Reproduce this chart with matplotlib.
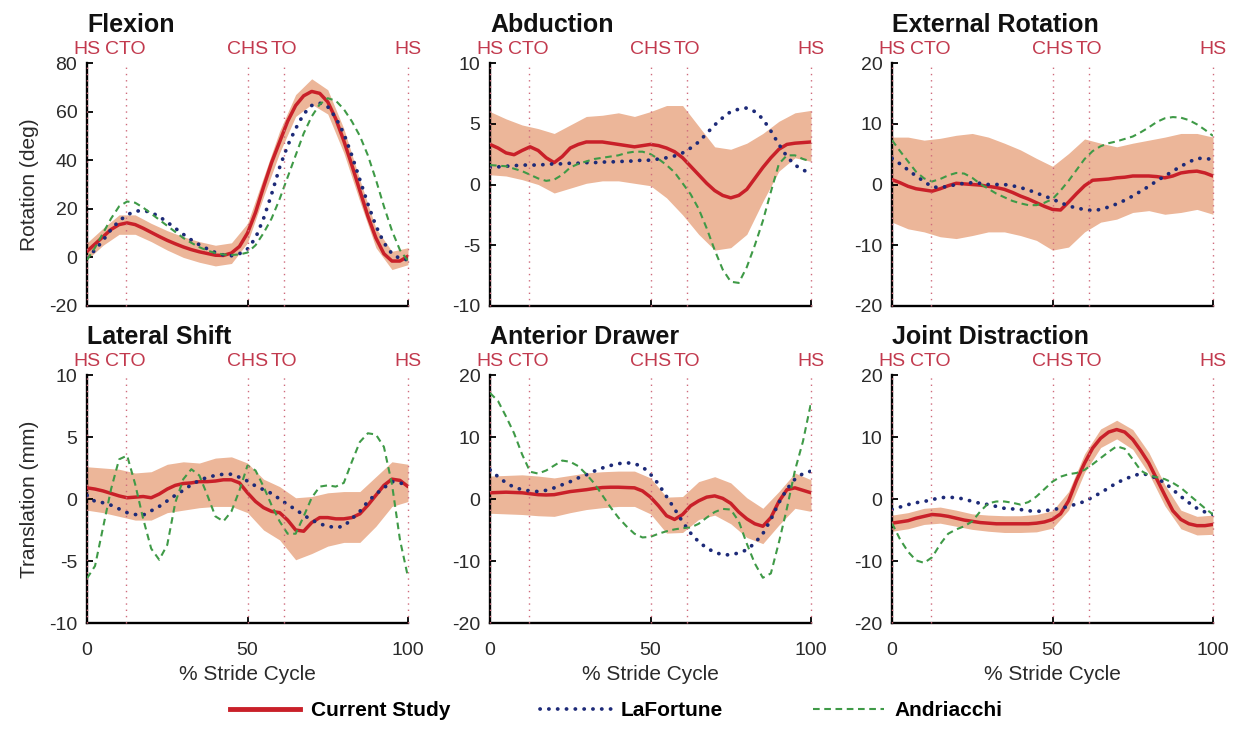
import matplotlib
matplotlib.use("Agg")
import matplotlib.pyplot as plt
from matplotlib.lines import Line2D

plt.rcParams['font.family'] = ['Liberation Sans', 'DejaVu Sans']
plt.rcParams['axes.unicode_minus'] = False

# ---------------------------------------------------------------- data
pct = [0, 2.5, 5, 7.5, 10, 12.5, 15, 17.5, 20, 22.5, 25, 27.5, 30, 32.5, 35,
       37.5, 40, 42.5, 45, 47.5, 50, 52.5, 55, 57.5, 60, 62.5, 65, 67.5, 70,
       72.5, 75, 77.5, 80, 82.5, 85, 87.5, 90, 92.5, 95, 97.5, 100]
band_pct = [0, 5, 10, 15, 20, 25, 30, 35, 40, 45, 50, 55, 60, 65, 70, 75,
            80, 85, 90, 95, 100]

events = [0, 12, 50, 61.5, 100]
event_labels = ["HS", "CTO", "CHS", "TO", "HS"]

titles = ["Flexion", "Abduction", "External Rotation",
          "Lateral Shift", "Anterior Drawer", "Joint Distraction"]
ylabels = ["Rotation (deg)", "Translation (mm)"]
series_names = ["Current Study", "LaFortune", "Andriacchi"]

# Flexion (deg)
flex_mean = [2.5, 5.5, 8.5, 11.5, 13.5, 14.2, 13.5, 12.0, 10.3, 8.6, 7.0, 5.6,
             4.3, 3.2, 2.3, 1.6, 0.9, 0.8, 1.8, 4.5, 10.0, 18.5, 29.0, 39.0,
             47.5, 56.0, 62.5, 66.5, 68.3, 67.5, 64.0, 57.0, 48.0, 38.0, 27.5,
             17.0, 8.0, 1.5, -1.5, -1.5, 0.5]
flex_hi = [6, 12, 17.5, 17.5, 14, 11, 8.5, 6.5, 5, 6, 14, 33, 52, 67, 73.5,
           69, 53, 32, 12, 2.5, 4]
flex_lo = [-1, 5, 9.5, 9.5, 6.5, 3, 0, -2, -3.5, -2.5, 6, 25, 43, 58, 63, 59,
           43, 23, 4, -5, -3]
flex_lafortune = [0.0, 3.0, 7.0, 11.5, 15.0, 17.5, 19.0, 19.3, 18.5, 16.8,
                  14.5, 12.0, 9.5, 7.2, 5.2, 3.5, 2.0, 1.0, 0.7, 1.5, 3.5, 8.0,
                  16.0, 26.0, 37.0, 46.0, 53.0, 59.0, 62.5, 63.5, 62.0, 57.5,
                  51.0, 42.0, 32.0, 22.0, 13.0, 6.0, 1.5, -0.5, -1.0]
flex_andriacchi = [-1.0, 4.0, 10.0, 16.0, 21.0, 23.0, 22.5, 20.5, 18.0, 15.5,
                   13.0, 10.5, 8.0, 6.0, 4.2, 2.8, 1.8, 1.2, 1.0, 1.2, 2.0,
                   5.0, 10.0, 16.0, 24.0, 33.0, 42.0, 51.0, 58.0, 63.0, 65.5,
                   64.5, 61.0, 56.0, 50.0, 42.0, 32.0, 21.0, 11.0, 3.0, -1.5]

# Abduction (deg)
abd_mean = [3.3, 3.0, 2.6, 2.45, 2.8, 3.1, 2.8, 2.2, 1.8, 2.3, 3.0, 3.3, 3.5,
            3.5, 3.5, 3.4, 3.3, 3.2, 3.1, 3.2, 3.3, 3.2, 3.0, 2.7, 2.2, 1.5,
            0.8, 0.1, -0.5, -0.9, -1.1, -0.9, -0.4, 0.5, 1.4, 2.2, 2.9, 3.3,
            3.4, 3.45, 3.5]
abd_hi = [6.0, 5.4, 4.9, 4.6, 4.2, 4.9, 5.6, 5.7, 5.9, 5.6, 6.0, 6.5, 6.5, 4.8,
          3.1, 2.9, 3.4, 4.2, 5.2, 5.9, 6.1]
abd_lo = [0.8, 0.7, 0.4, 0.0, -0.7, -0.3, 0.1, 0.3, 0.3, 0.1, -0.1, -1.1, -2.5,
          -4.1, -5.4, -5.2, -4.1, -1.4, 1.1, 2.2, 1.9]
abd_lafortune = [1.4, 1.45, 1.5, 1.55, 1.6, 1.6, 1.6, 1.65, 1.7, 1.7, 1.75,
                 1.75, 1.8, 1.8, 1.85, 1.85, 1.9, 1.9, 1.95, 2.0, 2.0, 2.1, 2.2,
                 2.35, 2.6, 3.0, 3.5, 4.2, 4.9, 5.5, 6.0, 6.2, 6.3, 6.0, 5.4,
                 4.4, 3.3, 2.3, 1.6, 1.2, 0.9]
abd_andriacchi = [1.6, 1.55, 1.5, 1.3, 1.1, 0.8, 0.5, 0.3, 0.4, 0.8, 1.4, 1.7,
                  1.9, 2.1, 2.2, 2.3, 2.4, 2.6, 2.7, 2.7, 2.5, 2.1, 1.6, 1.0,
                  0.1, -0.8, -2.0, -3.6, -5.4, -7.0, -8.0, -8.1, -6.8, -5.0,
                  -3.0, -0.6, 1.7, 2.4, 2.4, 2.1, 1.9]

# External rotation (deg)
er_mean = [0.8, 0.3, -0.3, -0.7, -0.9, -1.1, -0.7, -0.2, 0.2, 0.1, 0.0, -0.1,
           -0.3, -0.5, -0.8, -1.3, -1.9, -2.4, -3.0, -3.6, -4.1, -4.2, -2.9,
           -1.5, -0.2, 0.7, 0.8, 0.9, 1.1, 1.2, 1.4, 1.4, 1.4, 1.3, 1.1, 1.4,
           1.9, 2.1, 2.2, 1.9, 1.4]
er_hi = [7.8, 7.8, 7.3, 7.6, 8.1, 8.4, 7.8, 6.8, 5.7, 4.3, 3.0, 5.1, 7.5, 6.8,
         6.2, 6.8, 7.3, 7.8, 8.4, 8.4, 7.8]
er_lo = [-6.2, -7.3, -7.8, -8.6, -8.9, -8.4, -7.8, -7.8, -8.4, -9.2, -10.8,
         -10.3, -7.8, -6.2, -5.7, -4.6, -4.3, -4.9, -4.6, -4.1, -4.9]
er_lafortune = [4.3, 3.4, 2.4, 1.4, 0.5, -0.4, -0.5, -0.3, 0.0, 0.2, 0.3, 0.2,
                0.0, 0.0, 0.0, -0.2, -0.5, -0.9, -1.4, -1.9, -2.4, -3.0, -3.5,
                -3.9, -4.1, -4.3, -4.1, -3.7, -3.2, -2.6, -1.9, -1.1, -0.3,
                0.6, 1.4, 2.2, 3.0, 3.7, 4.3, 4.3, 4.1]
er_andriacchi = [7.3, 5.5, 3.8, 2.1, 1.0, 0.5, 0.9, 1.5, 1.9, 1.8, 1.1, 0.1,
                 -0.7, -1.5, -2.1, -2.7, -3.1, -3.4, -3.4, -3.0, -2.4, -1.0,
                 0.6, 2.4, 4.2, 5.5, 6.3, 6.8, 7.1, 7.5, 7.9, 8.6, 9.4, 10.3,
                 10.9, 11.1, 11.0, 10.6, 9.9, 9.0, 8.0]

# Lateral shift (mm)
ls_mean = [0.9, 0.8, 0.65, 0.45, 0.25, 0.1, 0.15, 0.2, 0.1, 0.4, 0.8, 1.1,
           1.25, 1.3, 1.4, 1.4, 1.45, 1.55, 1.55, 1.3, 0.5, -0.2, -0.7, -1.0,
           -1.1, -1.7, -2.5, -2.6, -1.9, -1.5, -1.5, -1.6, -1.6, -1.5, -1.2,
           -0.5, 0.3, 1.1, 1.6, 1.5, 1.0]
ls_hi = [2.6, 2.5, 2.4, 2.1, 2.2, 2.8, 3.0, 2.9, 3.3, 3.4, 2.9, 1.6, 1.0, 0.1,
         0.2, 0.5, 0.6, 0.6, 1.8, 3.0, 2.8]
ls_lo = [-0.9, -1.1, -1.4, -1.7, -1.7, -1.1, -0.9, -0.7, -0.6, -0.6, -1.1,
         -2.5, -3.3, -4.9, -4.4, -3.8, -3.5, -3.5, -2.2, -0.6, -0.2]
ls_lafortune = [0.3, -0.2, -0.3, -0.5, -0.8, -1.1, -1.25, -1.3, -0.95, -0.6,
                -0.15, 0.3, 0.7, 1.15, 1.5, 1.75, 1.9, 2.0, 2.0, 1.75, 1.45,
                1.05, 0.75, 0.45, 0.0, -0.45, -0.85, -1.3, -1.7, -2.0, -2.2,
                -2.3, -2.2, -1.6, -1.0, -0.2, 0.4, 0.9, 1.4, 1.3, 1.1]
ls_andriacchi = [-6.4, -5.4, -2.3, 0.8, 3.2, 3.5, 1.2, -1.6, -4.0, -4.9, -3.7,
                 -0.3, 1.6, 2.4, 1.9, 0.3, -1.4, -1.8, -1.0, 0.7, 2.7, 2.3,
                 1.0, -0.5, -1.8, -2.8, -2.8, -1.4, 0.1, 1.0, 1.1, 1.0, 1.3,
                 3.0, 4.6, 5.3, 5.2, 4.2, 1.2, -3.3, -6.3]

# Anterior drawer (mm)
ad_mean = [1.0, 1.05, 1.1, 1.05, 1.0, 0.85, 0.7, 0.65, 0.7, 0.95, 1.2, 1.35,
           1.5, 1.7, 1.85, 1.9, 1.9, 1.85, 1.8, 1.3, 0.3, -1.1, -2.7, -3.3,
           -2.5, -1.1, -0.3, 0.3, 0.5, 0.1, -0.7, -2.1, -3.2, -4.0, -4.4,
           -3.0, -0.4, 1.5, 1.8, 1.4, 1.0]
ad_hi = [3.7, 3.8, 3.9, 3.7, 3.4, 3.8, 4.2, 4.4, 4.5, 4.5, 3.4, 0.3, 0.4, 2.8,
         3.6, 2.6, 0.2, -1.5, 1.2, 4.2, 3.1]
ad_lo = [-2.3, -2.4, -2.5, -2.7, -2.8, -2.2, -1.7, -1.4, -1.2, -1.2, -2.4,
         -5.5, -5.4, -3.3, -2.6, -4.0, -6.2, -7.2, -4.2, -1.5, -2.0]
ad_lafortune = [4.7, 3.6, 2.6, 1.9, 1.5, 1.3, 1.2, 1.4, 1.8, 2.3, 2.8, 3.4,
                3.9, 4.5, 5.0, 5.4, 5.7, 5.85, 5.7, 5.2, 4.0, 2.4, 0.4, -1.6,
                -3.7, -5.5, -6.9, -7.9, -8.6, -9.0, -9.0, -8.7, -8.2, -7.1,
                -5.6, -3.3, -0.6, 1.6, 3.2, 4.1, 4.5]
ad_andriacchi = [17.1, 15.8, 13.3, 10.6, 7.2, 4.4, 4.1, 4.6, 5.4, 6.2, 6.0,
                 5.3, 4.0, 2.5, 0.6, -1.3, -3.0, -4.4, -5.6, -6.2, -6.1, -5.6,
                 -5.2, -4.9, -4.7, -4.6, -4.0, -3.0, -2.1, -1.6, -1.7, -3.6,
                 -7.2, -10.4, -12.7, -12.0, -7.0, -1.5, 4.6, 9.3, 15.5]

# Joint distraction (mm)
jd_mean = [-3.9, -3.7, -3.5, -3.1, -2.8, -2.5, -2.6, -2.8, -3.1, -3.4, -3.6,
           -3.8, -3.9, -4.0, -4.0, -4.0, -4.0, -4.0, -3.9, -3.7, -3.3, -2.4,
           -0.3, 3.0, 5.8, 8.2, 9.8, 10.8, 11.2, 10.8, 9.6, 7.8, 5.8, 3.2, 0.6,
           -1.9, -3.3, -4.0, -4.3, -4.3, -4.1]
jd_hi = [-2.6, -2.2, -1.5, -1.3, -1.8, -2.4, -2.6, -2.7, -2.7, -2.5, -1.9, 1.2,
         7.3, 11.3, 12.7, 11.2, 7.5, 2.3, -1.8, -2.8, -2.6]
jd_lo = [-5.2, -4.8, -4.1, -3.9, -4.4, -4.9, -5.2, -5.4, -5.4, -5.3, -4.7,
         -1.8, 4.3, 8.3, 9.7, 8.0, 4.1, -1.1, -4.8, -5.8, -5.7]
jd_lafortune = [-1.7, -1.3, -0.9, -0.6, -0.4, -0.1, 0.2, 0.3, 0.2, 0.0, -0.4,
                -0.7, -0.9, -1.2, -1.5, -1.6, -1.7, -1.9, -2.0, -1.9, -1.7,
                -1.5, -1.2, -0.8, -0.4, 0.3, 1.0, 1.8, 2.6, 3.2, 3.7, 4.1, 3.9,
                3.3, 2.6, 1.5, 0.4, -0.6, -1.5, -2.1, -2.5]
jd_andriacchi = [-3.9, -6.5, -8.5, -9.9, -10.3, -9.4, -7.3, -5.6, -4.9, -4.4,
                 -3.6, -2.0, -0.7, -0.4, -0.4, -0.6, -0.9, -0.5, 0.4, 1.6, 2.8,
                 3.6, 4.0, 4.2, 4.7, 5.6, 6.6, 7.6, 8.5, 8.1, 6.4, 4.6, 3.8,
                 3.5, 3.2, 2.6, 1.8, 0.7, -0.4, -1.5, -2.5]

panel_series = [
    (flex_mean, flex_lo, flex_hi, flex_lafortune, flex_andriacchi),
    (abd_mean, abd_lo, abd_hi, abd_lafortune, abd_andriacchi),
    (er_mean, er_lo, er_hi, er_lafortune, er_andriacchi),
    (ls_mean, ls_lo, ls_hi, ls_lafortune, ls_andriacchi),
    (ad_mean, ad_lo, ad_hi, ad_lafortune, ad_andriacchi),
    (jd_mean, jd_lo, jd_hi, jd_lafortune, jd_andriacchi),
]
y_ticks = [
    [-20, 0, 20, 40, 60, 80],
    [-10, -5, 0, 5, 10],
    [-20, -10, 0, 10, 20],
    [-10, -5, 0, 5, 10],
    [-20, -10, 0, 10, 20],
    [-20, -10, 0, 10, 20],
]
x_ticks = [0, 50, 100]

# ---------------------------------------------------------------- style
RED = "#c92029"
BAND = "#ecb699"
NAVY = "#1d2a78"
GREEN = "#3f9a47"
EVENT = "#c23a4e"
EVENT_LINE = "#cf6b7c"
TICK_TXT = "#2a2a2a"

blue_style = dict(color=NAVY, lw=2.7, linestyle=(0, (0.05, 2.3)),
                  dash_capstyle="round")
green_style = dict(color=GREEN, lw=1.5, linestyle=(0, (3.2, 2.2)))
red_style = dict(color=RED, lw=2.5, solid_capstyle="round")

W, H = 1239, 730
fig = plt.figure(figsize=(W / 100, H / 100), dpi=100)

col_left = [87, 490, 892]
col_w = 321
row_top = [63, 375]
row_h = [243, 248]

for i, (title, series) in enumerate(zip(titles, panel_series)):
    r, c = divmod(i, 3)
    ax = fig.add_axes([col_left[c] / W, 1 - (row_top[r] + row_h[r]) / H,
                       col_w / W, row_h[r] / H])
    mean, lo, hi, laf, andr = series

    ax.fill_between(band_pct, lo, hi, color=BAND, linewidth=0, zorder=1)
    ax.plot(pct, mean, zorder=4, **red_style)
    ax.plot(pct, laf, zorder=5, **blue_style)
    ax.plot(pct, andr, zorder=6, **green_style)

    for ev, lab in zip(events, event_labels):
        ax.axvline(ev, color=EVENT_LINE, lw=1.0, linestyle=(0, (1, 3.5)),
                   zorder=7, clip_on=False)
        ax.annotate(lab, xy=(ev, 1), xycoords=("data", "axes fraction"),
                    xytext=(0, 3.5), textcoords="offset points",
                    ha="center", va="bottom", color=EVENT, fontsize=14)

    yt = y_ticks[i]
    ax.set_xlim(0, 100)
    ax.set_ylim(yt[0], yt[-1])
    ax.set_yticks(yt)
    ax.set_xticks(x_ticks)

    for side in ("top", "right"):
        ax.spines[side].set_visible(False)
    for side in ("left", "bottom"):
        ax.spines[side].set_linewidth(1.7)
        ax.spines[side].set_color("black")

    ax.tick_params(direction="in", length=4, width=1.3, labelsize=14,
                   labelcolor=TICK_TXT, colors="black")
    ax.tick_params(axis="y", pad=7)
    ax.tick_params(axis="x", pad=14)
    for lbl in ax.get_xticklabels() + ax.get_yticklabels():
        lbl.set_color(TICK_TXT)

    if r == 0:
        ax.tick_params(axis="x", labelbottom=False)
    else:
        ax.set_xlabel("% Stride Cycle", fontsize=15, labelpad=4,
                      color=TICK_TXT)
    if c == 0:
        ax.set_ylabel(ylabels[r], fontsize=15, labelpad=7, color=TICK_TXT)

    ax.set_title(title, loc="left", fontsize=18, fontweight="bold",
                 pad=22, color="#111111")

handles = [
    Line2D([], [], color=RED, lw=3.5),
    Line2D([], [], **blue_style),
    Line2D([], [], **green_style),
]
fig.legend(handles, series_names, loc="center",
           bbox_to_anchor=(0.497, 1 - 711 / H), ncol=3, frameon=False,
           prop=dict(weight="bold", size=15), handlelength=3.4,
           handletextpad=0.5, columnspacing=4.3)

fig.savefig("out.png", dpi=100, facecolor="white")
